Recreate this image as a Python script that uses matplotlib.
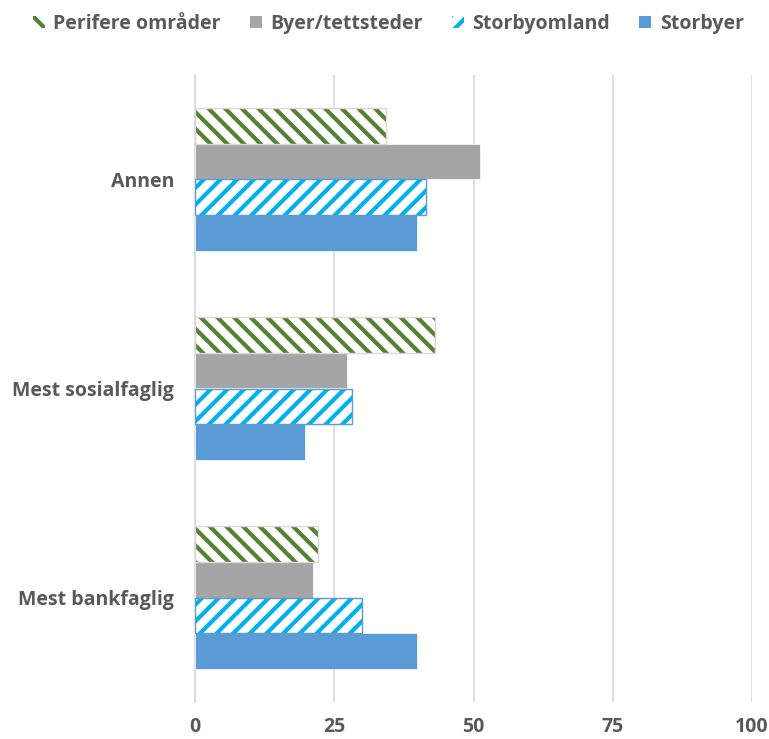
import numpy as np
import matplotlib.pyplot as plt
from matplotlib.patches import Patch

plt.rcParams['font.family'] = ['Open Sans', 'DejaVu Sans']
plt.rcParams['hatch.linewidth'] = 3.0

categories = ['Mest bankfaglig', 'Mest sosialfaglig', 'Annen']
storbyer = [39.9, 19.7, 39.9]
storbyomland = [30.0, 28.2, 41.5]
byer = [21.2, 27.3, 51.2]
perifere = [22.1, 43.1, 34.3]

text_col = '#595959'
grid_col = '#D9D9D9'

fig = plt.figure(figsize=(7.69, 7.39), dpi=100)
ax = fig.add_axes([195 / 769, 1 - 702 / 739, 557 / 769, 627 / 739])

y = np.arange(len(categories))
h = 0.17
ax.barh(y - 1.5 * h, storbyer, height=h, color='#5B9BD5', edgecolor='white', linewidth=0.5, zorder=3)
ax.barh(y - 0.5 * h, storbyomland, height=h, color='white', edgecolor='#00B0F0',
        hatch='//', linewidth=0, zorder=3)
ax.barh(y - 0.5 * h, storbyomland, height=h, fill=False, edgecolor='#5B9BD5', linewidth=1, zorder=4)
ax.barh(y + 0.5 * h, byer, height=h, color='#A5A5A5', edgecolor='white', linewidth=0.5, zorder=3)
ax.barh(y + 1.5 * h, perifere, height=h, color='white', edgecolor='#548235',
        hatch='\\\\', linewidth=0, zorder=3)
ax.barh(y + 1.5 * h, perifere, height=h, fill=False, edgecolor='#D9D9D9', linewidth=1, zorder=4)

ax.set_xlim(0, 100)
ax.set_ylim(-0.5, 2.5)
ax.set_xticks([0, 25, 50, 75, 100])
ax.set_yticks(y)
ax.set_yticklabels(categories)
ax.grid(axis='x', color=grid_col, linewidth=1.2, zorder=0)
for s in ['top', 'right', 'bottom']:
    ax.spines[s].set_visible(False)
ax.spines['left'].set_color(grid_col)
ax.spines['left'].set_linewidth(1.2)
ax.tick_params(axis='x', length=0, pad=11, labelsize=14, labelcolor=text_col)
ax.tick_params(axis='y', length=0, pad=15, labelsize=14, labelcolor=text_col)
for lab in ax.get_xticklabels() + ax.get_yticklabels():
    lab.set_fontweight('bold')

handles = [
    Patch(facecolor='white', edgecolor='#548235', hatch='\\\\', linewidth=0),
    Patch(facecolor='#A5A5A5'),
    Patch(facecolor='white', edgecolor='#00B0F0', hatch='//', linewidth=0),
    Patch(facecolor='#5B9BD5'),
]
labels = ['Perifere områder', 'Byer/tettsteder', 'Storbyomland', 'Storbyer']
leg = fig.legend(handles, labels, loc='center', bbox_to_anchor=(0.505, 1 - 24 / 739), ncol=4,
                 frameon=False, handlelength=0.6, handleheight=0.6, handletextpad=0.45,
                 columnspacing=1.5, prop={'size': 14, 'weight': 'bold'})
for t in leg.get_texts():
    t.set_color(text_col)

fig.savefig('out.png', dpi=100)
